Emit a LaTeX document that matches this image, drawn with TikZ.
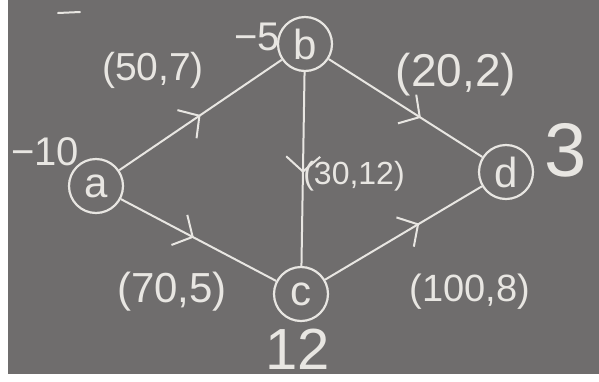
\documentclass[tikz,border=0pt]{standalone}
\usepackage{fontspec}
\setmainfont{Liberation Sans}
\usetikzlibrary{arrows.meta,decorations.markings}
\definecolor{board}{HTML}{6F6D6D}
\definecolor{chalk}{HTML}{E8E6E2}
\begin{document}
\begin{tikzpicture}[x=1pt,y=-1pt,
  vert/.style={circle,draw=chalk,line width=2.2pt,minimum size=54pt,inner sep=0pt,text=chalk,font=\fontsize{42}{42}\selectfont},
  edge/.style={draw=chalk,line width=2pt},
  lbl/.style={text=chalk,inner sep=0pt},
  midarrow/.style={postaction={decorate},decoration={markings,mark=at position #1 with {\arrow[chalk,line width=2pt]{Straight Barb[length=15pt,width=34pt]}}}},
]
\useasboundingbox (0,0) rectangle (599,381);
\fill[white] (0,0) rectangle (599,381);
\fill[board] (8,0) rectangle (599,374);

\node[vert] (a) at (96,186) {a};
\node[vert] (b) at (305,44) {b};
\node[vert] (c) at (301,294) {c};
\node[vert] (d) at (506,172) {d};

\draw[edge,midarrow=0.5] (a) -- (b);
\draw[edge,midarrow=0.6] (b) -- (d);
\draw[edge,midarrow=0.52] (b) -- (c);
\draw[edge,midarrow=0.47] (a) -- (c);
\draw[edge,midarrow=0.6] (c) -- (d);

\node[lbl,font=\fontsize{39}{39}\selectfont] (lab) at (153,70) {(50,7)};
\node[lbl,font=\fontsize{46}{46}\selectfont] (lbd) at (456,75) {(20,2)};
\node[lbl,font=\fontsize{32}{32}\selectfont] (lbc) at (354,176) {(30,12)};
\node[lbl,font=\fontsize{42}{42}\selectfont] (lac) at (172,292) {(70,5)};
\node[lbl,font=\fontsize{38}{38}\selectfont] (lcd) at (470,292) {(100,8)};

\node[lbl,font=\fontsize{40}{40}\selectfont] (sa) at (45,152) {−10};
\node[lbl,font=\fontsize{40}{40}\selectfont] (sb) at (257,37) {−5};
\node[lbl,font=\fontsize{76}{76}\selectfont] (sd) at (566,150) {3};
\node[lbl,font=\fontsize{58}{58}\selectfont] (sc) at (298,349) {12};

\coordinate (m1) at (58,13);
\coordinate (m2) at (80,12);
\draw[edge,line cap=round] (m1) -- (m2);
\end{tikzpicture}
\end{document}
